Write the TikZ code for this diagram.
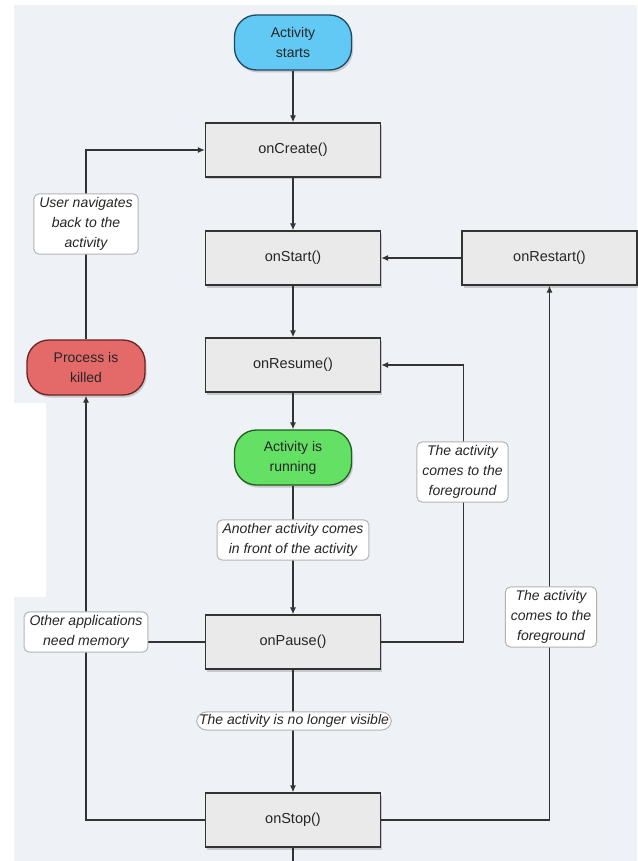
\documentclass[tikz,border=0pt]{standalone}
\usepackage{fontspec}
\setmainfont{Liberation Sans}
\usetikzlibrary{arrows.meta,shadows}
\definecolor{bgc}{HTML}{EEF1F5}
\definecolor{linec}{HTML}{333333}
\definecolor{boxfill}{HTML}{EAEAEA}
\definecolor{bluef}{HTML}{62C8F4}
\definecolor{blued}{HTML}{1F4A63}
\definecolor{greenf}{HTML}{64E064}
\definecolor{greend}{HTML}{1E5E1E}
\definecolor{redf}{HTML}{E46A6A}
\definecolor{redd}{HTML}{6E2222}
\definecolor{lblc}{HTML}{B4B4B4}
\begin{document}
\begin{tikzpicture}[x=1pt,y=-1pt,
  every node/.style={text=black!85},
  box/.style={draw=linec, line width=1.3pt, fill=boxfill, minimum width=175pt, minimum height=54pt,
    font=\fontsize{14.5}{19}\selectfont,
    drop shadow={shadow xshift=1.5pt, shadow yshift=-2.5pt, opacity=0.35}},
  pill/.style={line width=1.3pt, rounded corners=22pt, minimum width=117pt, minimum height=55pt,
    align=center, font=\fontsize{14}{20}\selectfont,
    drop shadow={shadow xshift=1.5pt, shadow yshift=-2.5pt, opacity=0.35}},
  lbl/.style={draw=lblc, line width=1pt, fill=white, rounded corners=5pt, align=center,
    inner xsep=5.5pt, inner ysep=3.5pt, font=\fontsize{14}{20}\selectfont\itshape},
  conn/.style={draw=linec, line width=1.3pt},
  arr/.style={conn, -{Latex[length=7pt,width=6pt]}}
]
\useasboundingbox (0,0) rectangle (637,861);
\fill[white] (0,0) rectangle (637,861);
\fill[bgc] (14,5) rectangle (637,861);
\fill[white] (0,403) rectangle (46,597);

\node[pill, draw=blued, fill=bluef] (begin) at (293,42.5) {Activity\\starts};
\node[box] (create) at (293,150) {onCreate()};
\node[box] (startn) at (293,258) {onStart()};
\node[box] (restart) at (549.5,258) {onRestart()};
\node[box] (resume) at (293,365) {onResume()};
\node[pill, draw=greend, fill=greenf] (running) at (293,457.5) {Activity is\\running};
\node[box] (pause) at (293,642) {onPause()};
\node[box] (stop) at (293,820) {onStop()};
\node[pill, draw=redd, fill=redf, minimum width=118pt] (killed) at (86,367.5) {Process is\\killed};
\coordinate (bot) at (293,861);

\draw[arr] (begin) -- (create);
\draw[arr] (create) -- (startn);
\draw[arr] (startn) -- (resume);
\draw[arr] (resume) -- (running);
\draw[arr] (running) -- (pause);
\draw[arr] (pause) -- (stop);
\draw[conn] (stop) -- (bot);
\draw[arr] (restart) -- (startn);
\draw[arr] (pause.east) -- ++(82,0) |- (resume.east);
\draw[arr] (stop.east) -| (restart.south);
\draw[arr] (stop.west) -| (killed.south);
\draw[conn] (pause.west) -- (pause.west -| killed.south);
\draw[arr] (killed.north) |- (create.west);

\node[lbl] (l1) at (86,224) {User navigates\\back to the\\activity};
\node[lbl] (l2) at (293,540) {Another activity comes\\in front of the activity};
\node[lbl] (l3) at (462.5,472) {The activity\\comes to the\\foreground};
\node[lbl] (l4) at (551,617) {The activity\\comes to the\\foreground};
\node[lbl] (l5) at (86,632) {Other applications\\need memory};
\node[lbl, rounded corners=10pt, inner sep=2.5pt] (l6) at (294,721) {The activity is no longer visible};
\end{tikzpicture}
\end{document}
